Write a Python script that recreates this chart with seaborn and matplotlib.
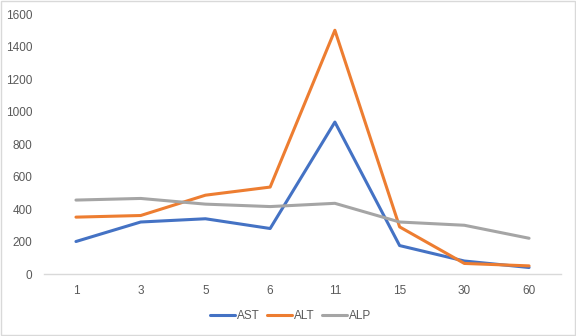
import matplotlib
matplotlib.use("Agg")
import matplotlib.pyplot as plt
import seaborn as sns
import pandas as pd
from matplotlib.patches import Rectangle
from matplotlib.lines import Line2D

days = ["1", "3", "5", "6", "11", "15", "30", "60"]
ast = [200, 320, 340, 280, 935, 175, 80, 40]
alt = [350, 360, 485, 535, 1500, 290, 65, 50]
alp = [455, 465, 430, 415, 435, 320, 300, 220]
series_names = ["AST", "ALT", "ALP"]
colors = ["#4472C4", "#ED7D31", "#A5A5A5"]

rows = []
for name, vals in zip(series_names, [ast, alt, alp]):
    for i, (d, v) in enumerate(zip(days, vals)):
        rows.append({"pos": i, "day": d, "value": v, "series": name})
df = pd.DataFrame(rows)

sns.set_theme(style="white")
plt.rcParams['font.family'] = ['Liberation Sans', 'DejaVu Sans']

fig = plt.figure(figsize=(5.76, 3.36), dpi=100)
ax = fig.add_axes([0.0757, 0.1845, 0.8990, 0.7738])
sns.lineplot(data=df, x="pos", y="value", hue="series", hue_order=series_names,
             palette=colors, linewidth=2.2, ax=ax, legend=False)

ax.set_xlim(-0.5, len(days) - 0.5)
ax.set_ylim(0, 1600)
ax.set_xticks(range(len(days)))
ax.set_xticklabels(days)
ax.set_yticks(range(0, 1601, 200))
ax.set_xlabel("")
ax.set_ylabel("")
for s in ["top", "right", "left"]:
    ax.spines[s].set_visible(False)
ax.spines["bottom"].set_color("#D9D9D9")
ax.spines["bottom"].set_linewidth(1.0)
ax.tick_params(axis="both", length=0, labelsize=8.5, colors="#595959")
ax.tick_params(axis="y", pad=8)
ax.tick_params(axis="x", pad=8)

handles = [Line2D([], [], color=c, linewidth=2.2) for c in colors]
fig.legend(handles, series_names, loc="center", bbox_to_anchor=(0.505, 0.0595),
           ncol=3, frameon=False, fontsize=8.5, handlelength=2.1,
           handletextpad=0.2, columnspacing=0.6, labelcolor="#595959")

fig.add_artist(Rectangle((0.001, 0.002), 0.997, 0.995, transform=fig.transFigure,
                         fill=False, edgecolor="#D9D9D9", linewidth=1.0))

fig.savefig("out.png", dpi=100)
